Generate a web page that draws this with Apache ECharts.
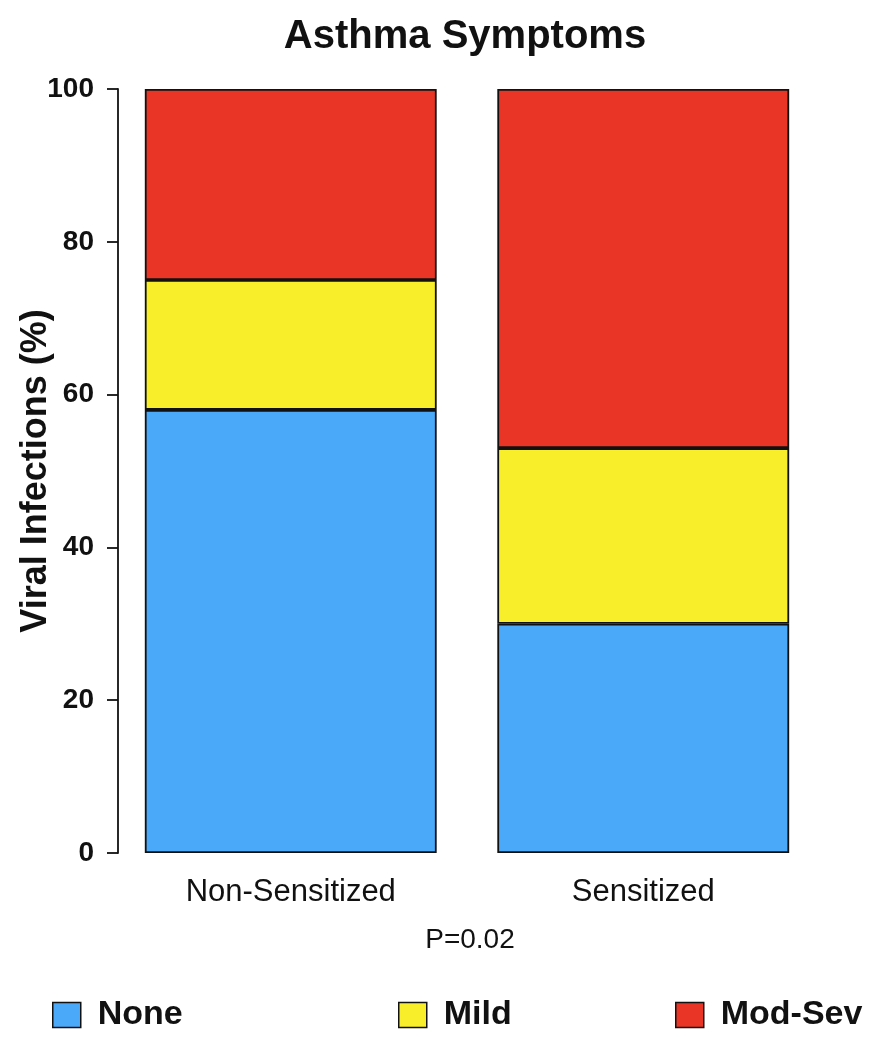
<!DOCTYPE html>
<html><head><meta charset="utf-8">
<script src="https://cdn.jsdelivr.net/npm/echarts@6/dist/echarts.min.js"></script>
<style>html,body{margin:0;padding:0;background:#fff}#c{width:871px;height:1037px}</style>
</head><body><div id="c"></div>
<script>
const categories = ['Non-Sensitized', 'Sensitized'];
const noneVals = [58, 30];
const mildVals = [17, 23];
const modSevVals = [25, 47];
const yTicks = [0, 20, 40, 60, 80, 100];

const F = '"Liberation Sans", Arial, sans-serif';
const chart = echarts.init(document.getElementById('c'));
const border = {borderColor: '#111', borderWidth: 1.8};
function legend(name, left) {
  return {
    data: [name], left: left, top: 993, icon: 'rect', itemWidth: 28, itemHeight: 25, itemGap: 22,
    textStyle: {fontFamily: F, fontWeight: 'bold', fontSize: 34, color: '#111', padding: [12, 0, 0, 12]},
    itemStyle: {borderColor: '#111', borderWidth: 1.5}
  };
}
chart.setOption({
  animation: false,
  title: {text: 'Asthma Symptoms', left: 460, top: 12, textAlign: 'center',
    textStyle: {fontFamily: F, fontWeight: 'bold', fontSize: 40, color: '#111'}},
  legend: [legend('None', 47), legend('Mild', 393), legend('Mod-Sev', 670)],
  grid: {left: 114.5, width: 705, top: 89, height: 764, containLabel: false, outerBoundsMode: 'none'},
  xAxis: {type: 'category', data: categories,
    axisLine: {show: false}, axisTick: {show: false},
    axisLabel: {fontFamily: F, fontSize: 31, color: '#111', margin: 24}},
  yAxis: {type: 'value', min: 0, max: 100, interval: 20, offset: -3.5,
    name: 'Viral Infections (%)', nameLocation: 'middle', nameGap: 64, nameRotate: 90, nameMoveOverlap: false,
    nameTextStyle: {fontFamily: F, fontWeight: 'bold', fontSize: 36, color: '#111'},
    axisLine: {show: true, lineStyle: {color: '#111', width: 1.8}},
    axisTick: {show: true, length: 11, lineStyle: {color: '#111', width: 1.8}},
    splitLine: {show: false},
    axisLabel: {fontFamily: F, fontWeight: 'bold', fontSize: 28, color: '#111', margin: 24,
      formatter: v => yTicks.includes(v) ? String(v) : ''}},
  graphic: [{type: 'text', x: 470, y: 940,
    style: {text: 'P=0.02', fontFamily: F, fontSize: 28, fill: '#111', align: 'center', verticalAlign: 'middle'}}],
  series: [
    {name: 'None', type: 'bar', stack: 's', data: noneVals, barWidth: '82.8%', itemStyle: Object.assign({color: '#4AA9F9'}, border)},
    {name: 'Mild', type: 'bar', stack: 's', data: mildVals, barWidth: '82.8%', itemStyle: Object.assign({color: '#F8EE2A'}, border)},
    {name: 'Mod-Sev', type: 'bar', stack: 's', data: modSevVals, barWidth: '82.8%', itemStyle: Object.assign({color: '#E83525'}, border)}
  ]
});
</script></body></html>
